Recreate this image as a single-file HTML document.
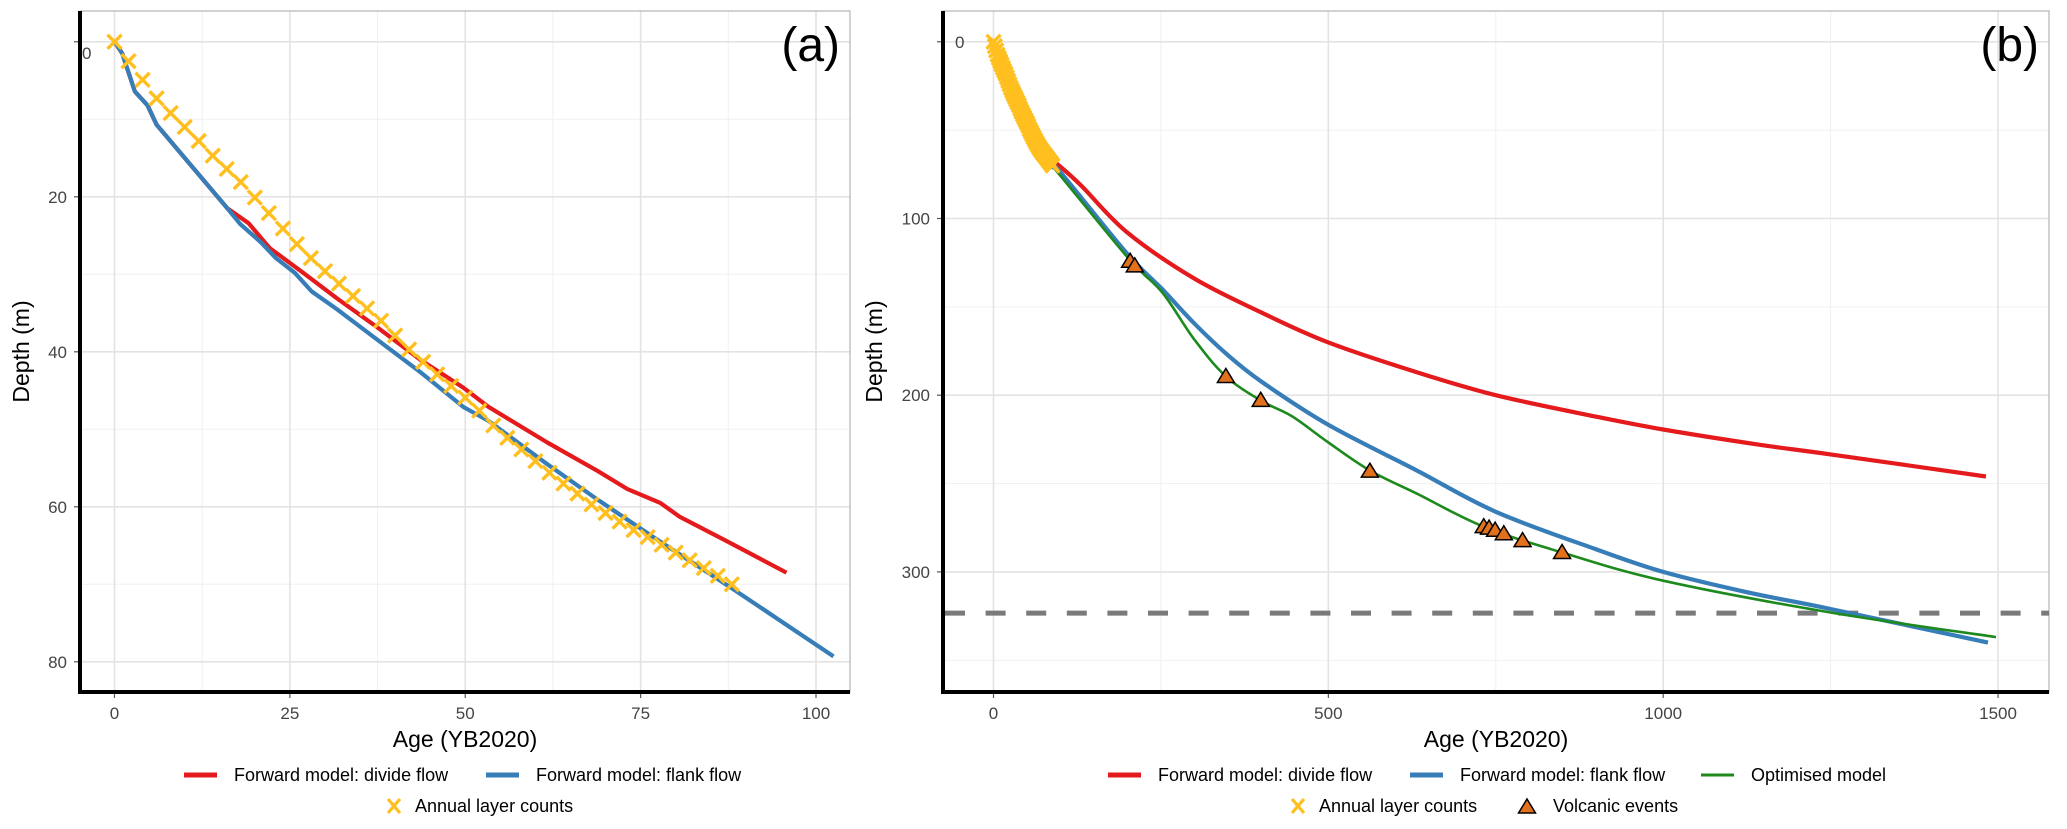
<!DOCTYPE html>
<html><head><meta charset="utf-8"><style>
html,body{margin:0;padding:0;background:#fff;}
svg{display:block;font-family:"Liberation Sans",Arial,sans-serif;}
</style></head><body>
<svg id="chart" width="2067" height="829" viewBox="0 0 2067 829"></svg>
<script>
// ---- Data ----
const annualAge = [0,2,4,6,8,10,12,14,16,18,20,22,24,26,28,30,32,34,36,38,40,42,44,46,48,50,52,54,56,58,60,62,64,66,68,70,72,74,76,78,80,82,84,86,88];
const annualDepth = [0,2.5,4.9,7.3,9.2,11,12.8,14.7,16.4,18.1,20.1,22.1,24.1,26.1,27.9,29.6,31.2,32.8,34.4,36,37.9,39.7,41.3,42.9,44.4,45.9,47.6,49.5,51.1,52.6,54.1,55.6,57,58.3,59.7,60.8,61.9,63,63.9,64.9,65.9,66.9,67.9,68.9,70];

const aBlueAge = [0,1.1,2.9,4.7,6.0,16.1,17.9,20.9,23,25.7,28.1,31.7,37.7,43.7,49.7,53.3,61.7,68.9,77.3,88,102.5];
const aBlueDepth = [0,1.5,6.4,8.2,10.7,21.5,23.5,25.9,27.9,29.8,32.2,34.5,38.6,42.7,47.1,48.9,54.5,59.1,64.2,70.5,79.3];
const aRedAge = [0,1.1,2.9,4.7,6.0,16.1,19.1,22.1,26.9,31.7,37.7,43.7,49.7,53.3,61.7,68.9,73.1,77.8,80.6,87,91.8,95.8];
const aRedDepth = [0,1.5,6.4,8.2,10.7,21.5,23.4,26.6,29.8,33.1,37,41.1,44.6,47.1,51.7,55.4,57.7,59.5,61.3,64.3,66.6,68.5];

const bRedAge = [92.6,131,199,299,399,499,632,750,898,1000,1143,1250,1482];
const bRedDepth = [68.3,81.4,107.7,133.8,153,170,187,200,212,219.4,228,233.5,246];
const bBlueAge = [88,99,199,252,299,346,399,499,632,750,898,1000,1125,1250,1485];
const bBlueDepth = [71,73.4,119.7,140,159,176,192,216.5,242.6,266,287,300,311.5,321,340];
const bGreenAge = [85,99,202,252,299,346,399,446,499,562,632,732,849,1000,1250,1497];
const bGreenDepth = [69.5,75.4,122.8,141.9,168,189,203,212,226.5,242.6,255.7,274.4,289,305,323,336.9];
const volcAge = [204,211,347,399,562,732,740,749,762,790,849];
const volcDepth = [124.2,126.8,189.4,202.9,243,274.4,275.2,276.4,278.4,282.3,289];
const dashDepth = 323.3;

const aXTicks = [0,25,50,75,100];
const aXMinor = [12.5,37.5,62.5,87.5];
const aYTicks = [0,20,40,60,80];
const aYMinor = [10,30,50,70];
const bXTicks = [0,500,1000,1500];
const bXMinor = [250,750,1250];
const bYTicks = [0,100,200,300];
const bYMinor = [50,150,250,350];

// ---- Helpers ----
const svg = document.getElementById('chart');
const NS = 'http://www.w3.org/2000/svg';
function mk(tag, attrs, parent){ const e=document.createElementNS(NS,tag); for(const k in attrs) e.setAttribute(k,attrs[k]); (parent||svg).appendChild(e); return e; }

const COL = {red:'#E41A1C', blue:'#377EB8', green:'#1E8A1E', gold:'#FFBF1F', orange:'#E2711D', dash:'#7a7a7a'};

function panel(cfg){
  const {L,R,T,B,x,y} = cfg;
  const g = mk('g',{});
  
  
  mk('rect',{x:L,y:T,width:R-L,height:B-T,fill:'#fff'},g);
  cfg.xMinor.forEach(v=>{ const l=mk('line',{x1:x(v),x2:x(v),y1:T,y2:B,stroke:'#f0f0f0','stroke-width':1},g);
      });
  cfg.yMinor.forEach(v=>{ const l=mk('line',{x1:L,x2:R,y1:y(v),y2:y(v),stroke:'#f0f0f0','stroke-width':1},g);
      });
  cfg.xTicks.forEach(v=>{ const l=mk('line',{x1:x(v),x2:x(v),y1:T,y2:B,stroke:'#e3e3e3','stroke-width':1.6},g);
     
    mk('line',{x1:x(v),x2:x(v),y1:B,y2:B+6,stroke:'#555','stroke-width':1.2},g);
    const t=mk('text',{x:x(v),y:B+27,'text-anchor':'middle','font-size':17,fill:'#444'},g); t.textContent=v;
      });
  cfg.yTicks.forEach((v,i)=>{ const l=mk('line',{x1:L,x2:R,y1:y(v),y2:y(v),stroke:'#e3e3e3','stroke-width':1.6},g);
     
    mk('line',{x1:L-6,x2:L,y1:y(v),y2:y(v),stroke:'#555','stroke-width':1.2},g);
    let t;
    if(i===0){ t=mk('text',{x:L+cfg.zeroDx,y:y(v)+cfg.zeroDy,'text-anchor':'start','font-size':17,fill:'#444'},g); }
    else { t=mk('text',{x:L-13,y:y(v)+6,'text-anchor':'end','font-size':17,fill:'#444'},g); }
    t.textContent=v;
      });
  mk('rect',{x:L,y:T,width:R-L,height:B-T,fill:'none',stroke:'#b3b3b3','stroke-width':1.2},g);
  const xa=mk('line',{x1:L-2,x2:R,y1:B,y2:B,stroke:'#000','stroke-width':4},g);
   
  const ya=mk('line',{x1:L,x2:L,y1:T,y2:B+2,stroke:'#000','stroke-width':4},g);
   
  const xt=mk('text',{x:(L+R)/2,y:B+55,'text-anchor':'middle','font-size':23,fill:'#000'},g); xt.textContent='Age (YB2020)';
   
  const yt=mk('text',{x:0,y:0,'text-anchor':'middle','font-size':23,fill:'#000',transform:`translate(${cfg.ytX},${(T+B)/2}) rotate(-90)`},g); yt.textContent='Depth (m)';
   
  const pl=mk('text',{x:R-10,y:T+50,'text-anchor':'end','font-size':48,fill:'#000'},g); pl.textContent=cfg.label;
   
  return g;
}
function line(g,ages,depths,x,y,color,w,name,smooth){
  const P=ages.map((a,i)=>[x(a),y(depths[i])]);
  let d='M'+P[0][0].toFixed(1)+','+P[0][1].toFixed(1);
  for(let i=1;i<P.length;i++){
    if(!smooth){ d+='L'+P[i][0].toFixed(1)+','+P[i][1].toFixed(1); continue; }
    const p0=P[Math.max(0,i-2)], p1=P[i-1], p2=P[i], p3=P[Math.min(P.length-1,i+1)];
    const c1=[p1[0]+(p2[0]-p0[0])/6, p1[1]+(p2[1]-p0[1])/6];
    const c2=[p2[0]-(p3[0]-p1[0])/6, p2[1]-(p3[1]-p1[1])/6];
    d+=`C${c1[0].toFixed(1)},${c1[1].toFixed(1)} ${c2[0].toFixed(1)},${c2[1].toFixed(1)} ${p2[0].toFixed(1)},${p2[1].toFixed(1)}`;
  }
  const p=mk('path',{d,fill:'none',stroke:color,'stroke-width':w,'stroke-linejoin':'round','stroke-linecap':'butt'},g);
  
  
  return p;
}
function crosses(g,ages,depths,x,y){
  const cg=mk('g',{stroke:COL.gold,'stroke-width':3.4},g);
  
  
  ages.forEach((a,i)=>{ const cx=x(a), cy=y(depths[i]), s=7;
    const p=mk('path',{d:`M${cx-s},${cy-s}L${cx+s},${cy+s}M${cx-s},${cy+s}L${cx+s},${cy-s}`},cg);
    
     });
}
function tri(parent,cx,cy,name){
  const p=mk('path',{d:`M${cx},${cy-8}L${cx+8.5},${cy+6}L${cx-8.5},${cy+6}Z`,fill:COL.orange,stroke:'#000','stroke-width':1.5},parent);
  
  
  return p;
}

// ---- Panel (a) ----
const ax = v => 114.5 + v*7.015;
const ay = v => 41.8 + v*7.75;
const ga = panel({name:'panel-a',L:80,R:850,T:11,B:692,x:ax,y:ay,xTicks:aXTicks,xMinor:aXMinor,yTicks:aYTicks,yMinor:aYMinor,zeroDx:2,zeroDy:17,ytX:29,label:'(a)'});
line(ga,aRedAge,aRedDepth,ax,ay,COL.red,4.2,'divide-flow-line-a',false);
line(ga,aBlueAge,aBlueDepth,ax,ay,COL.blue,4.2,'flank-flow-line-a',false);
crosses(ga,annualAge,annualDepth,ax,ay);

// ---- Panel (b) ----
const bx = v => 993.5 + v*0.6697;
const by = v => 41.8 + v*1.767;
const gb = panel({name:'panel-b',L:943,R:2049,T:11,B:692,x:bx,y:by,xTicks:bXTicks,xMinor:bXMinor,yTicks:bYTicks,yMinor:bYMinor,zeroDx:12,zeroDy:6,ytX:882,label:'(b)'});
const dl=mk('line',{x1:945,x2:2049,y1:by(dashDepth),y2:by(dashDepth),stroke:COL.dash,'stroke-width':5,'stroke-dasharray':'20 20.6'},gb);
 
line(gb,bRedAge,bRedDepth,bx,by,COL.red,4.2,'divide-flow-line-b',true);
line(gb,bBlueAge,bBlueDepth,bx,by,COL.blue,4.2,'flank-flow-line-b',true);
line(gb,bGreenAge,bGreenDepth,bx,by,COL.green,2.6,'optimised-model-line',true);
crosses(gb,annualAge,annualDepth,bx,by);
const vg=mk('g',{},gb);


volcAge.forEach((a,i)=>tri(vg,bx(a),by(volcDepth[i]),'volcanic-event-marker'));

// ---- Legends ----
function legLine(x,y,color,w,label,name){
  const g=mk('g',{});
  
  
  mk('line',{x1:x,x2:x+33,y1:y,y2:y,stroke:color,'stroke-width':w},g);
  const t=mk('text',{x:x+50,y:y+6,'font-size':18,fill:'#000'},g); t.textContent=label;
}
function legCross(x,y,label,name){
  const g=mk('g',{});
  
  
  mk('path',{d:`M${x-6},${y-7}L${x+6},${y+7}M${x-6},${y+7}L${x+6},${y-7}`,stroke:COL.gold,'stroke-width':3.2},g);
  const t=mk('text',{x:x+21,y:y+6,'font-size':18,fill:'#000'},g); t.textContent=label;
}
legLine(184,775,COL.red,5,'Forward model: divide flow','legend-a-divide-flow');
legLine(486,775,COL.blue,5,'Forward model: flank flow','legend-a-flank-flow');
legCross(394,806,'Annual layer counts','legend-a-annual-layers');

legLine(1108,775,COL.red,5,'Forward model: divide flow','legend-b-divide-flow');
legLine(1410,775,COL.blue,5,'Forward model: flank flow','legend-b-flank-flow');
legLine(1701,775,COL.green,3,'Optimised model','legend-b-optimised');
legCross(1298,806,'Annual layer counts','legend-b-annual-layers');
const vl=mk('g',{});


tri(vl,1527,807,'legend-volcanic-marker');
const vt=mk('text',{x:1553,y:812,'font-size':18,fill:'#000'},vl); vt.textContent='Volcanic events';
</script>
</body></html>
